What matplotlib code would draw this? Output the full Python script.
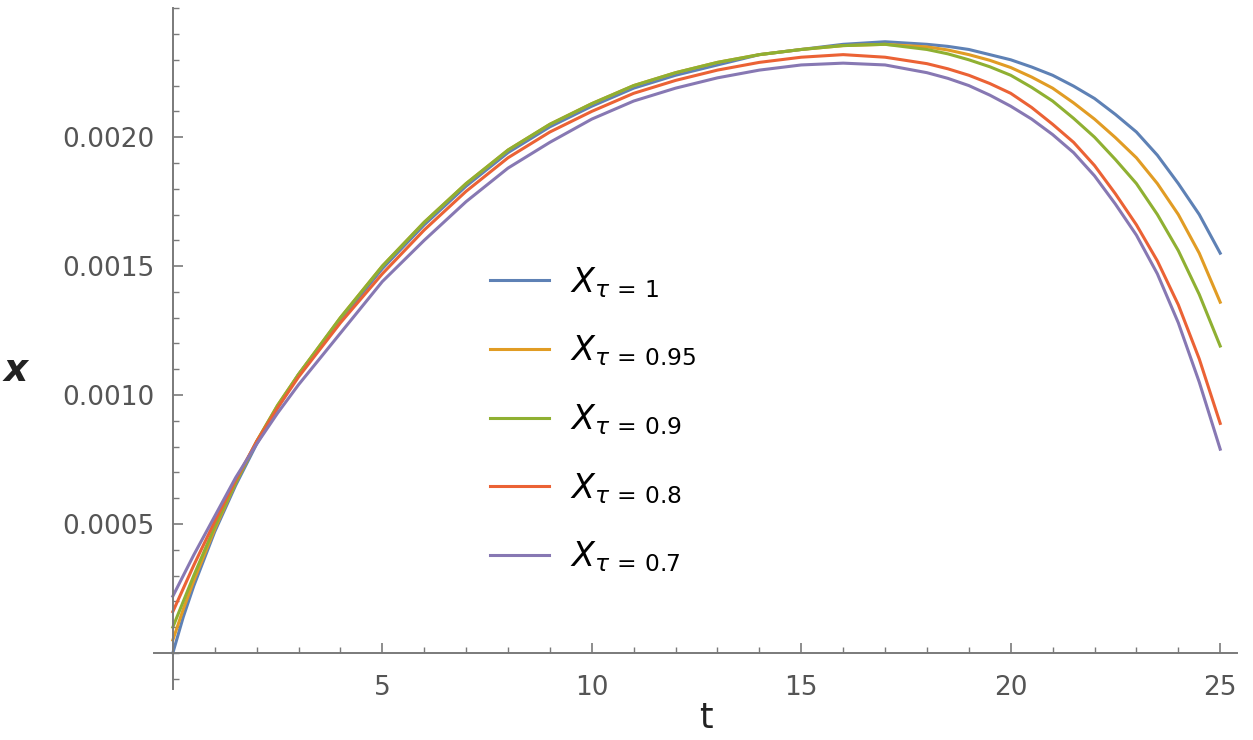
import matplotlib
matplotlib.use("Agg")
import matplotlib.pyplot as plt
from matplotlib.ticker import MultipleLocator, FixedLocator

# t samples
t = [0, 0.25, 0.5, 1, 1.5, 2, 2.5, 3, 4, 5, 6, 7, 8, 9, 10, 11, 12, 13, 14,
     15, 16, 17, 18, 18.5, 19, 19.5, 20, 20.5, 21, 21.5, 22, 22.5, 23, 23.5,
     24, 24.5, 25]

x_10 = [0.0, 0.00014, 0.00026, 0.00047, 0.00065, 0.00081, 0.00095, 0.00108,
        0.00129, 0.00149, 0.00166, 0.00181, 0.00194, 0.00204, 0.00212, 0.00219,
        0.00224, 0.00228, 0.00232, 0.00234, 0.00236, 0.00237, 0.00236, 0.002352,
        0.00234, 0.00232, 0.00230, 0.002272, 0.00224, 0.002198, 0.00215,
        0.002088, 0.00202, 0.00193, 0.00182, 0.00170, 0.00155]
x_095 = [0.00005, 0.00017, 0.00028, 0.00048, 0.00066, 0.00082, 0.00096, 0.00108,
         0.00130, 0.00150, 0.00167, 0.00182, 0.00195, 0.00205, 0.00213, 0.00220,
         0.00225, 0.00229, 0.00232, 0.00234, 0.002355, 0.00236, 0.00235,
         0.002338, 0.00232, 0.002298, 0.00227, 0.002233, 0.00219, 0.002133,
         0.00207, 0.001998, 0.00192, 0.00182, 0.00170, 0.00155, 0.00136]
x_09 = [0.0001, 0.0002, 0.0003, 0.00049, 0.00066, 0.00082, 0.00096, 0.00108,
        0.00130, 0.00150, 0.00167, 0.00182, 0.00195, 0.00205, 0.00213, 0.00220,
        0.00225, 0.00229, 0.00232, 0.00234, 0.002355, 0.00236, 0.00234,
        0.002323, 0.00230, 0.002273, 0.00224, 0.002193, 0.00214, 0.002073,
        0.00200, 0.001913, 0.00182, 0.00170, 0.00156, 0.00139, 0.00119]
x_08 = [0.00016, 0.00025, 0.00034, 0.00051, 0.00067, 0.00082, 0.00095, 0.00107,
        0.00128, 0.00147, 0.00164, 0.00179, 0.00192, 0.00202, 0.00210, 0.00217,
        0.00222, 0.00226, 0.00229, 0.00231, 0.00232, 0.00231, 0.002285,
        0.002265, 0.00224, 0.002208, 0.00217, 0.002115, 0.00205, 0.00198,
        0.00189, 0.00178, 0.00166, 0.00152, 0.00135, 0.00114, 0.00089]
x_07 = [0.00022, 0.0003, 0.00038, 0.00053, 0.00068, 0.00081, 0.00093, 0.00104,
        0.00124, 0.00144, 0.00160, 0.00175, 0.00188, 0.00198, 0.00207, 0.00214,
        0.00219, 0.00223, 0.00226, 0.00228, 0.002287, 0.00228, 0.00225,
        0.002228, 0.00220, 0.002163, 0.00212, 0.00207, 0.00201, 0.00194,
        0.00185, 0.00174, 0.00162, 0.00147, 0.00128, 0.00105, 0.00079]

series = [x_10, x_095, x_09, x_08, x_07]
labels = [r'$X_{\tau\,=\,1}$', r'$X_{\tau\,=\,0.95}$', r'$X_{\tau\,=\,0.9}$',
          r'$X_{\tau\,=\,0.8}$', r'$X_{\tau\,=\,0.7}$']
colors = ['#5E81B5', '#E19C24', '#8FB032', '#EB6235', '#8778B3']

fig = plt.figure(figsize=(12.53, 7.4), dpi=100)
ax = fig.add_axes([0.1229, 0.0689, 0.8643, 0.920])

for ys, lab, c in zip(series, labels, colors):
    ax.plot(t, ys, color=c, lw=2.2, label=lab, solid_joinstyle='round')

ax.set_xlim(-0.45, 25.4)
ax.set_ylim(-0.00014, 0.0025)

# mathematica style axes through the origin
for s in ['top', 'right']:
    ax.spines[s].set_visible(False)
ax.spines['left'].set_position(('data', 0))
ax.spines['bottom'].set_position(('data', 0))
axis_col = '#7a7a7a'
for s in ['left', 'bottom']:
    ax.spines[s].set_color(axis_col)
    ax.spines[s].set_linewidth(1.4)

ax.xaxis.set_major_locator(FixedLocator([5, 10, 15, 20, 25]))
ax.xaxis.set_minor_locator(MultipleLocator(1))
ax.yaxis.set_major_locator(FixedLocator([0.0005, 0.0010, 0.0015, 0.0020]))
ax.yaxis.set_minor_locator(MultipleLocator(0.0001))
ax.set_xticklabels(['5', '10', '15', '20', '25'])
ax.set_yticklabels(['0.0005', '0.0010', '0.0015', '0.0020'])

ax.tick_params(which='major', direction='in', length=7, width=1.2,
               color=axis_col, labelsize=19, labelcolor='#555555')
ax.tick_params(which='minor', direction='in', length=4, width=1.0,
               color=axis_col)
ax.tick_params(axis='x', which='major', pad=16)
ax.tick_params(axis='y', which='major', pad=13)

ax.set_xlabel('t', fontsize=25, color='#222222')
ax.xaxis.set_label_coords(0.51, -0.018)
ax.set_ylabel('x', fontsize=27, fontweight='bold', style='italic',
              rotation=0, color='#222222')
ax.yaxis.set_label_coords(-0.128, 0.44)

ax.legend(loc='upper left', bbox_to_anchor=(0.283, 0.667), frameon=False,
          fontsize=24, handlelength=1.75, handletextpad=0.65, labelspacing=1.02)

fig.savefig('out.png', dpi=100)
